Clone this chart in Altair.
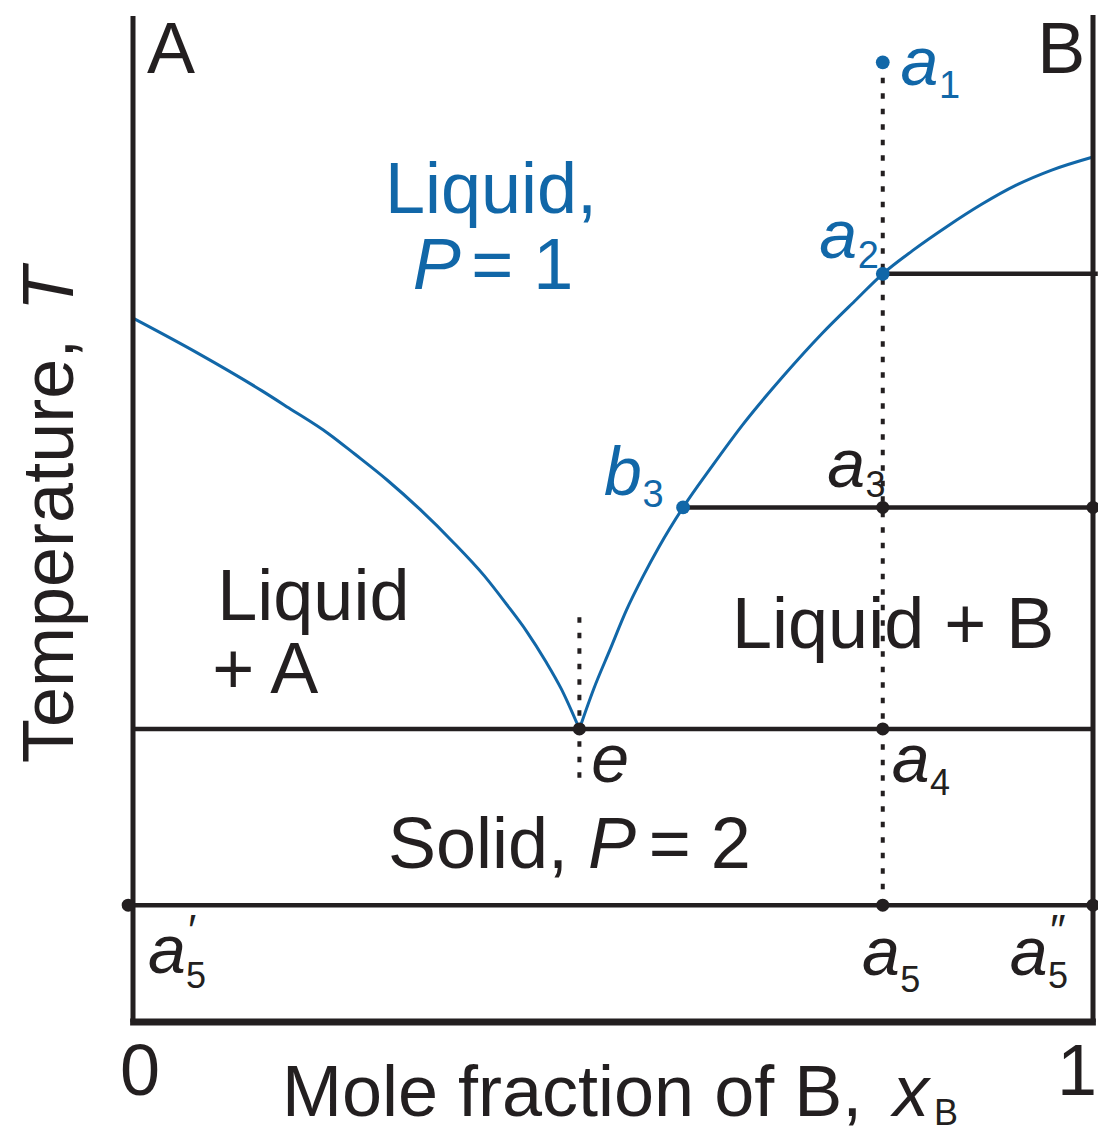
import altair as alt
import pandas as pd

# ---------------- data (x = mole fraction of B, T = temperature, arbitrary units) ----------------
# liquidus curve on the A-rich side (A + liquid boundary)
liqA_x = [0.000, 0.066, 0.134, 0.162, 0.204, 0.231, 0.265, 0.299, 0.334, 0.366,
          0.389, 0.410, 0.430, 0.446, 0.465]
liqA_T = [69.9, 66.5, 62.7, 61.0, 58.4, 56.4, 53.8, 50.9, 47.6, 44.3,
          41.5, 38.8, 35.8, 33.1, 29.1]

# liquidus curve on the B-rich side
liqB_x = [0.465, 0.480, 0.497, 0.514, 0.531, 0.548, 0.573, 0.604, 0.635, 0.677,
          0.718, 0.754, 0.781, 0.812, 0.848, 0.884, 0.920, 0.957, 1.000]
liqB_T = [29.1, 33.1, 37.0, 40.9, 44.2, 47.2, 51.1, 55.3, 59.3, 64.1,
          68.4, 71.8, 74.3, 76.6, 79.0, 81.2, 83.1, 84.6, 85.9]

# horizontal tie lines / eutectic line / all-solid line
tie_x1 = [0.781, 0.573, 0.0, -0.005]
tie_x2 = [1.005, 1.0, 1.0, 1.0]
tie_T = [74.3, 51.1, 29.1, 11.6]

# isopleth (dotted) lines
iso_x = [0.781, 0.465]
iso_T1 = [95.3, 40.2]
iso_T2 = [11.6, 23.5]

# points
blue_pt_x = [0.781, 0.781, 0.573]
blue_pt_T = [95.3, 74.3, 51.1]
black_pt_x = [0.781, 1.0, 0.465, 0.781, -0.005, 0.781, 1.0]
black_pt_T = [51.1, 51.1, 29.1, 29.1, 11.6, 11.6, 11.6]

# ---------------- styling ----------------
BLACK = "#231f20"
BLUE = "#1167a8"
FONT = "Liberation Sans"

xs = alt.Scale(domain=[0, 1], nice=False, zero=False)
ys = alt.Scale(domain=[0, 100], nice=False, zero=False)


def X(f="x"):
    return alt.X(f"{f}:Q", scale=xs, axis=None)


def Y(f="T"):
    return alt.Y(f"{f}:Q", scale=ys, axis=None)


# frame (axis lines)
frame_v = pd.DataFrame({"x": [0.0, 1.0], "T1": [0.0, 0.0], "T2": [99.9, 100.0]})
frame_h = pd.DataFrame({"x1": [-0.003], "x2": [1.003], "T": [0.0]})

left_right = alt.Chart(frame_v).mark_rule(color=BLACK, strokeWidth=5).encode(
    x=X("x"), y=Y("T1"), y2="T2:Q")
bottom = alt.Chart(frame_h).mark_rule(color=BLACK, strokeWidth=7).encode(
    x=X("x1"), x2="x2:Q", y=Y("T"))

ties = alt.Chart(pd.DataFrame({"x1": tie_x1, "x2": tie_x2, "T": tie_T})).mark_rule(
    color=BLACK, strokeWidth=4.5).encode(x=X("x1"), x2="x2:Q", y=Y("T"))

iso = alt.Chart(pd.DataFrame({"x": iso_x, "T1": iso_T1, "T2": iso_T2})).mark_rule(
    color=BLACK, strokeWidth=4, strokeDash=[5.5, 10]).encode(x=X("x"), y=Y("T1"), y2="T2:Q")

curveA = alt.Chart(pd.DataFrame({"x": liqA_x, "T": liqA_T})).mark_line(
    color=BLUE, strokeWidth=3, interpolate="monotone").encode(x=X(), y=Y())
curveB = alt.Chart(pd.DataFrame({"x": liqB_x, "T": liqB_T})).mark_line(
    color=BLUE, strokeWidth=3, interpolate="monotone").encode(x=X(), y=Y())

blue_pts = alt.Chart(pd.DataFrame({"x": blue_pt_x, "T": blue_pt_T})).mark_circle(
    color=BLUE, size=190, opacity=1).encode(x=X(), y=Y())
black_pts = alt.Chart(pd.DataFrame({"x": black_pt_x, "T": black_pt_T})).mark_circle(
    color=BLACK, size=170, opacity=1).encode(x=X(), y=Y())

# ---------------- text annotations: (text, x, T, style) ----------------
labels = [
    ("A", 0.0145, 94.24, "reg_black"),
    ("B", 0.942, 94.24, "reg_black"),
    ("Liquid", 0.0878, 39.92, "reg_black"),
    ("+ A", 0.0826, 32.67, "reg_black"),
    ("Liquid + B", 0.624, 37.14, "reg_black"),
    ("Solid,", 0.2655, 15.29, "reg_black"),
    ("= 2", 0.5372, 15.29, "reg_black"),
    ("Mole fraction of B,", 0.1552, -9.33, "reg_black"),
    ("P", 0.474, 15.29, "it72_black"),
    ("x", 0.7917, -9.33, "it72_black"),
    ("0", 0.0073, -7.25, "tick"),
    ("1", 1.0042, -7.25, "tick_r"),
    ("Liquid,", 0.2624, 80.34, "reg_blue"),
    ("= 1", 0.3523, 72.79, "reg_blue"),
    ("P", 0.2913, 72.79, "it72_blue"),
    ("a", 0.7996, 93.05, "it_blue"),
    ("a", 0.7149, 75.87, "it_blue"),
    ("b", 0.4907, 52.33, "it_blue"),
    ("e", 0.4773, 23.83, "it_black"),
    ("a", 0.7231, 53.13, "it_black"),
    ("a", 0.7903, 23.83, "it_black"),
    ("a", 0.0155, 4.87, "it_black"),
    ("a", 0.7593, 4.67, "it_black"),
    ("a", 0.9132, 4.67, "it_black"),
    ("\u2032", 0.0552, 7.55, "prime"),
    ("\u2033", 0.9531, 7.55, "prime"),
    ("1", 0.8396, 91.76, "sub_blue"),
    ("2", 0.7549, 74.88, "sub_blue"),
    ("3", 0.5307, 51.14, "sub_blue"),
    ("3", 0.7631, 52.14, "sub_black"),
    ("4", 0.8303, 22.54, "sub_black"),
    ("5", 0.0552, 3.38, "sub_black"),
    ("5", 0.7993, 2.98, "sub_black"),
    ("5", 0.9531, 3.38, "sub_black"),
    ("B", 0.8344, -10.23, "sub_black"),
    ("Temperature,", -0.0625, 25.72, "rot_reg"),
    ("T", -0.0625, 70.6, "rot_it"),
]
lab_df = pd.DataFrame(labels, columns=["text", "x", "T", "style"])

styles = {
    "reg_black": dict(fontSize=72, color=BLACK),
    "reg_blue": dict(fontSize=72, color=BLUE),
    "it72_black": dict(fontSize=72, color=BLACK, fontStyle="italic"),
    "it72_blue": dict(fontSize=72, color=BLUE, fontStyle="italic"),
    "it_black": dict(fontSize=68, color=BLACK, fontStyle="italic"),
    "it_blue": dict(fontSize=68, color=BLUE, fontStyle="italic"),
    "sub_black": dict(fontSize=36, color=BLACK),
    "sub_blue": dict(fontSize=38, color=BLUE),
    "prime": dict(fontSize=44, color=BLACK, fontStyle="italic"),
    "tick": dict(fontSize=72, color=BLACK, align="center"),
    "tick_r": dict(fontSize=72, color=BLACK, align="right"),
    "rot_reg": dict(fontSize=72, color=BLACK, angle=270),
    "rot_it": dict(fontSize=72, color=BLACK, angle=270, fontStyle="italic"),
}

text_layers = []
for name, st in styles.items():
    sub = lab_df[lab_df["style"] == name]
    params = dict(font=FONT, align="left", baseline="alphabetic")
    params.update(st)
    text_layers.append(
        alt.Chart(sub).mark_text(**params).encode(x=X(), y=Y(), text="text:N")
    )

chart = alt.layer(
    curveA, curveB, ties, iso, left_right, bottom, blue_pts, black_pts, *text_layers
).properties(
    width=960,
    height=1007,
    autosize=alt.AutoSizeParams(type="none"),
    padding={"left": 125, "top": 7, "right": 5, "bottom": 110},
    background="white",
).configure_view(stroke=None)

chart.save("out.html", embed_options={"renderer": "svg", "actions": False})
